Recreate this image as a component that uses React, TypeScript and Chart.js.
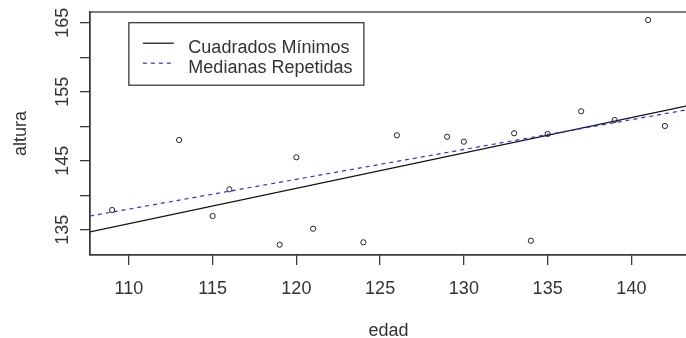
import { useEffect, useRef } from "react";
import { Chart, registerables } from "chart.js";

Chart.register(...registerables);

// Observed data: age (edad) vs height (altura)
const edad = [109, 113, 115, 116, 119, 120, 121, 124, 126, 129, 130, 133, 134, 135, 137, 139, 141, 142];
const altura = [
  137.85, 148.0, 136.98, 140.85, 132.82, 145.49, 135.14, 133.17, 148.68, 148.47, 147.75, 148.97, 133.4,
  148.87, 152.16, 150.9, 165.39, 150.03,
];

// Fitted lines, evaluated at both ends of the x range
const lineEdad = [107.68, 143.32];
const cuadradosMinimos = [134.68, 152.95];
const medianasRepetidas = [136.98, 152.38];

const seriesNames = ["Cuadrados Mínimos", "Medianas Repetidas"];

const xTicks = [110, 115, 120, 125, 130, 135, 140];
const yTicks = [135, 140, 145, 150, 155, 160, 165];
const yTickLabels = ["135", "", "145", "", "155", "", "165"];

const xRange = [107.68, 143.32];
const yRange = [131.33, 166.55];

const FONT_FAMILY = "'Liberation Sans', Arial, sans-serif";
const TEXT_COLOR = "#333";
const AXIS_COLOR = "#3a3a3a";

// Draws the full plot frame and the boxed legend anchored at (110, 165)
const frameAndLegend = {
  id: "frameAndLegend",
  afterDraw(chart: any) {
    const { ctx, chartArea, scales } = chart;
    ctx.save();
    ctx.strokeStyle = AXIS_COLOR;
    ctx.lineWidth = 1.3;
    ctx.strokeRect(
      chartArea.left,
      chartArea.top,
      chartArea.right - chartArea.left,
      chartArea.bottom - chartArea.top
    );

    const lx = scales.x.getPixelForValue(110);
    const ly = scales.y.getPixelForValue(165);
    const w = 235;
    const h = 62.5;
    ctx.fillStyle = "#fff";
    ctx.fillRect(lx, ly, w, h);
    ctx.strokeRect(lx, ly, w, h);

    const datasets = chart.data.datasets;
    const rows = [0, 1];
    rows.forEach((i) => {
      const ds = datasets[i];
      const yLine = ly + 20.5 + i * 20;
      ctx.beginPath();
      ctx.setLineDash(ds.borderDash || []);
      ctx.strokeStyle = ds.borderColor;
      ctx.lineWidth = ds.borderWidth;
      ctx.moveTo(lx + 14, yLine);
      ctx.lineTo(lx + 45, yLine);
      ctx.stroke();
      ctx.setLineDash([]);
      ctx.fillStyle = TEXT_COLOR;
      ctx.font = `18px ${FONT_FAMILY}`;
      ctx.textBaseline = "alphabetic";
      ctx.textAlign = "left";
      ctx.fillText(ds.label, lx + 59.5, ly + 30.5 + i * 20);
    });
    ctx.restore();
  },
};

export default function App() {
  const canvasRef = useRef<HTMLCanvasElement | null>(null);

  useEffect(() => {
    if (!canvasRef.current) return;
    Chart.defaults.font.family = FONT_FAMILY;

    const font = { size: 18, family: FONT_FAMILY };

    const chart = new Chart(canvasRef.current, {
      type: "scatter",
      data: {
        datasets: [
          {
            type: "line",
            label: seriesNames[0],
            data: lineEdad.map((x, i) => ({ x, y: cuadradosMinimos[i] })),
            borderColor: "#111",
            borderWidth: 1.2,
            pointRadius: 0,
            fill: false,
            order: 1,
          } as any,
          {
            type: "line",
            label: seriesNames[1],
            data: lineEdad.map((x, i) => ({ x, y: medianasRepetidas[i] })),
            borderColor: "#2b2bff",
            borderWidth: 1.2,
            borderDash: [4, 4],
            pointRadius: 0,
            fill: false,
            order: 0,
          } as any,
          {
            label: "altura",
            data: edad.map((x, i) => ({ x, y: altura[i] })),
            pointStyle: "circle",
            pointRadius: 2.6,
            borderColor: "#222",
            borderWidth: 1,
            backgroundColor: "rgba(0,0,0,0)",
            order: 2,
          },
        ],
      },
      options: {
        responsive: false,
        animation: false,
        events: [],
        layout: { padding: { top: 12, left: 0, right: 0, bottom: 0 } },
        plugins: {
          legend: { display: false },
          tooltip: { enabled: false },
        },
        scales: {
          x: {
            type: "linear",
            position: "bottom",
            min: xRange[0],
            max: xRange[1],
            afterBuildTicks: (s: any) => {
              s.ticks = xTicks.map((value) => ({ value }));
            },
            afterFit: (s: any) => {
              s.height = 83;
              s.paddingLeft = 0;
              s.paddingRight = 0;
            },
            grid: {
              display: true,
              drawOnChartArea: false,
              drawTicks: true,
              tickLength: 10,
              color: AXIS_COLOR,
              lineWidth: 1.3,
            },
            border: { display: true, color: AXIS_COLOR, width: 1.3 },
            ticks: {
              font,
              color: TEXT_COLOR,
              padding: 13.6,
              minRotation: 0,
              maxRotation: 0,
              autoSkip: false,
              callback: (v: any) => String(v),
            },
            title: {
              display: true,
              text: "edad",
              font,
              color: TEXT_COLOR,
              padding: { top: 0, bottom: -3.9 },
            },
          },
          y: {
            type: "linear",
            position: "left",
            min: yRange[0],
            max: yRange[1],
            afterBuildTicks: (s: any) => {
              s.ticks = yTicks.map((value) => ({ value }));
            },
            afterFit: (s: any) => {
              s.width = 90;
              s.paddingTop = 0;
              s.paddingBottom = 0;
            },
            grid: {
              display: true,
              drawOnChartArea: false,
              drawTicks: true,
              tickLength: 10,
              color: AXIS_COLOR,
              lineWidth: 1.3,
            },
            border: { display: true, color: AXIS_COLOR, width: 1.3 },
            ticks: {
              font,
              color: TEXT_COLOR,
              padding: 2.3,
              minRotation: 90,
              maxRotation: 90,
              crossAlign: "center",
              autoSkip: false,
              callback: (v: any) => yTickLabels[yTicks.indexOf(Number(v))] ?? "",
            },
            title: {
              display: true,
              text: "altura",
              font,
              color: TEXT_COLOR,
              padding: { top: 10.3, bottom: 0 },
            },
          },
        },
      },
      plugins: [frameAndLegend],
    });

    return () => chart.destroy();
  }, []);

  return (
    <div
      style={{
        position: "absolute",
        left: 0,
        top: 0,
        width: 686,
        height: 338,
        overflow: "hidden",
        background: "#fff",
      }}
    >
      <canvas ref={canvasRef} width={692} height={338} style={{ display: "block" }} />
    </div>
  );
}
